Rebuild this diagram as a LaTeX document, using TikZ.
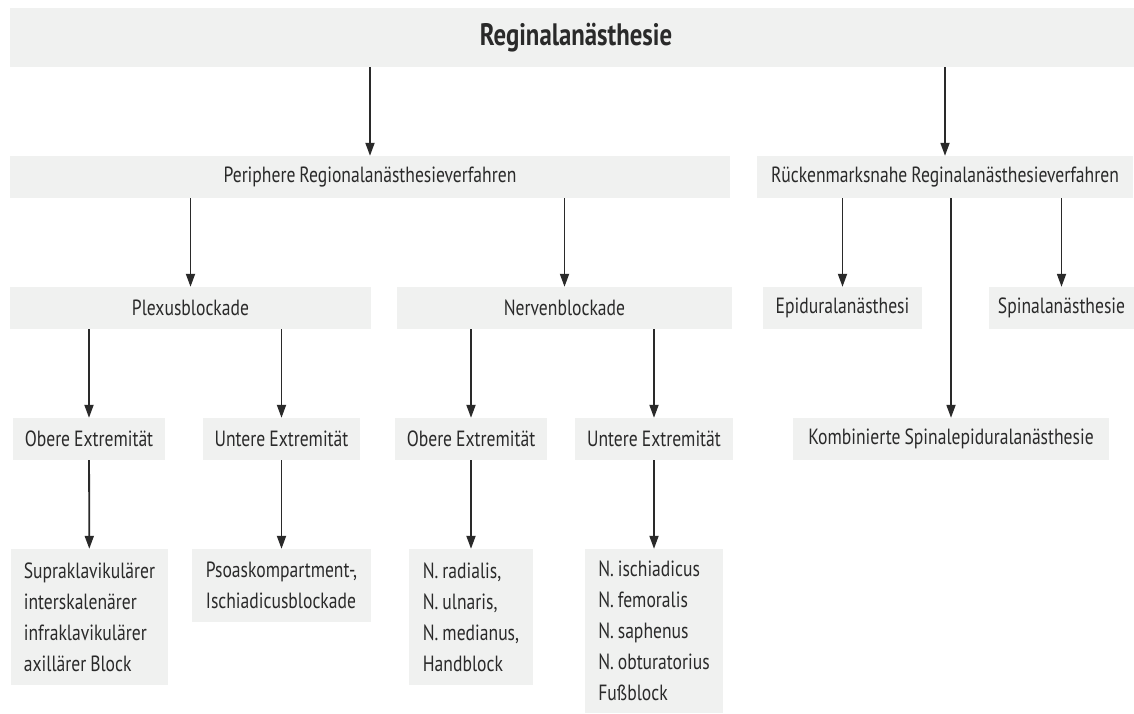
\documentclass[tikz,border=0pt]{standalone}
\usepackage{fontspec}
\setmainfont{PT Sans}[FakeStretch=0.8,WordSpace=0.85]
\usepackage{tikz}
\usetikzlibrary{arrows.meta}
\definecolor{boxgray}{HTML}{F0F1F0}
\definecolor{inkgray}{HTML}{2A2A2A}

\begin{document}
\begin{tikzpicture}[x=1pt, y=-1pt, >={Triangle[length=13pt,width=9pt]},
    every node/.style={font=\fontsize{22}{31}\selectfont, text=inkgray},
    cbox/.style={fill=boxgray, inner sep=0pt, minimum height=42pt},
    lbox/.style={fill=boxgray, inner sep=0pt, align=left},
    arr/.style={->, line width=1.8pt, draw=inkgray}]
    \useasboundingbox (0,0) rectangle (1134,713);
    \node[cbox,minimum width=1124pt,minimum height=59pt,font=\fontsize{31}{32}\selectfont\bfseries] (top) at (572,37.5)
      {\hspace{8pt}Reginalanästhesie};
    \node[cbox,minimum width=720pt] (peri) at (370,177) {Periphere Regionalanästhesieverfahren};
    \node[cbox,minimum width=376pt] (rueck) at (945,177) {Rückenmarksnahe Reginalanästhesieverfahren};
    \node[cbox,minimum width=361pt] (plex) at (190.5,308) {Plexusblockade};
    \node[cbox,minimum width=335pt] (nerv) at (564.5,308) {Nervenblockade};
    \node[cbox,minimum width=159pt] (epi) at (842.5,308) {Epiduralanästhesi};
    \node[cbox,minimum width=145pt] (spin) at (1061.5,308) {Spinalanästhesie};
    \node[cbox,minimum width=152pt] (plexob) at (89,439) {Obere Extremität};
    \node[cbox,minimum width=157pt] (plexun) at (281.5,439) {Untere Extremität};
    \node[cbox,minimum width=152pt] (nervob) at (471,439) {Obere Extremität};
    \node[cbox,minimum width=158pt] (nervun) at (654,439) {Untere Extremität};
    \node[cbox,minimum width=316pt] (kombi) at (951,439) {Kombinierte Spinalepiduralanästhesie};
    \node[lbox,minimum width=157pt,minimum height=136pt] (supra) at (89.5,617)
      {Supraklavikulärer\\interskalenärer\\infraklavikulärer\\axillärer Block};
    \node[lbox,minimum width=179pt,minimum height=73pt] (psoas) at (281.5,585.5)
      {Psoaskompartment-,\\Ischiadicusblockade};
    \node[lbox,minimum width=124pt,minimum height=136pt] (radial) at (471,617)
      {N. radialis,\\N. ulnaris,\\N. medianus,\\Handblock};
    \node[lbox,minimum width=138pt,minimum height=164pt] (ischi) at (654,631)
      {N. ischiadicus\\N. femoralis\\N. saphenus\\N. obturatorius\\Fußblock};
    % Verbindungen
    \draw[arr] (top.south -| peri.north) -- (peri.north);
    \draw[arr] (top.south -| rueck.north) -- (rueck.north);
    \draw[arr] (peri.south -| plex.north) -- (plex.north);
    \draw[arr] (peri.south -| nerv.north) -- (nerv.north);
    \draw[arr] (rueck.south -| epi.north) -- (epi.north);
    \draw[arr] (rueck.south -| spin.north) -- (spin.north);
    \draw[arr] (rueck.south -| kombi.north) -- (kombi.north);
    \draw[arr] (plex.south -| plexob.north) -- (plexob.north);
    \draw[arr] (plex.south -| plexun.north) -- (plexun.north);
    \draw[arr] (nerv.south -| nervob.north) -- (nervob.north);
    \draw[arr] (nerv.south -| nervun.north) -- (nervun.north);
    \draw[arr] (plexob) -- (supra);
    \draw[arr] (plexun) -- (psoas);
    \draw[arr] (nervob) -- (radial);
    \draw[arr] (nervun) -- (ischi);
\end{tikzpicture}
\end{document}
